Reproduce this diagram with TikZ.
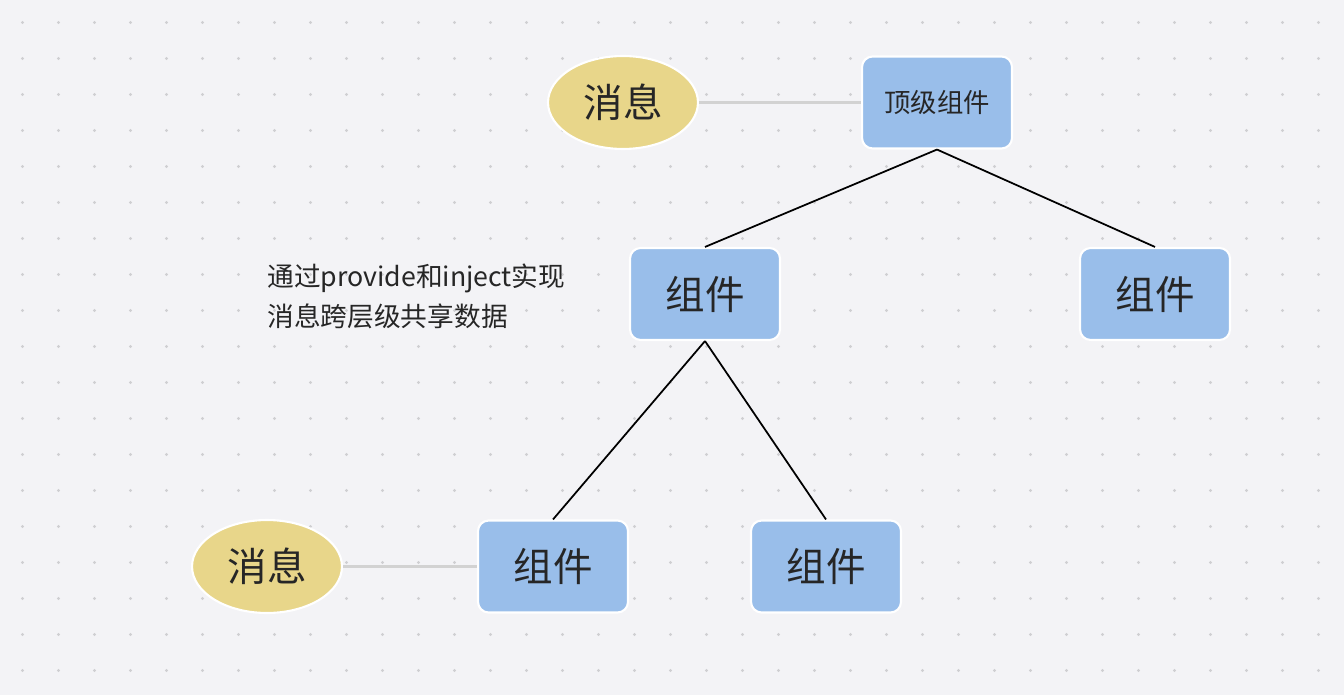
\documentclass[tikz,border=0pt]{standalone}
\usepackage{fontspec}
\newfontfamily\cjk{Noto Sans CJK SC}
\usepackage{tikz}
\usetikzlibrary{shapes.geometric}
\definecolor{bgpaper}{HTML}{F3F3F6}
\definecolor{griddot}{HTML}{CFCFD2}
\definecolor{compblue}{HTML}{99BEEA}
\definecolor{msgyellow}{HTML}{E8D68A}
\definecolor{textdark}{HTML}{262626}
\tikzset{
  comp/.style={draw=white, line width=1.2pt, fill=compblue, rounded corners=6pt,
               minimum width=3cm, minimum height=1.84cm, text=textdark,
               font=\cjk\fontsize{22.5pt}{26pt}\selectfont},
  topcomp/.style={comp, font=\cjk\fontsize{15pt}{18pt}\selectfont},
  msg/.style={ellipse, draw=white, line width=1.2pt, fill=msgyellow, inner sep=0pt,
              minimum width=3cm, minimum height=1.86cm, text=textdark,
              font=\cjk\fontsize{22.5pt}{26pt}\selectfont},
  tree/.style={line width=1pt, black},
  link/.style={line width=1.2pt, gray!35},
}

\begin{document}
\begin{tikzpicture}[x=0.02cm, y=-0.02cm]
  % paper with dot grid
  \fill[bgpaper] (0,0) rectangle (1344,695);
  \useasboundingbox (0,0) rectangle (1344,695);
  \foreach \i in {0,...,36}
    \foreach \j in {0,...,18}
      \fill[griddot] (22.5+36*\i,22.5+36*\j) circle[radius=1.6];

  % components
  \node[topcomp] (top) at (937,102.5) {顶级组件};
  \node[comp] (midL) at (705,294) {组件};
  \node[comp] (midR) at (1155,294) {组件};
  \node[comp] (botL) at (553,566.5) {组件};
  \node[comp] (botR) at (826,566.5) {组件};

  % messages
  \node[msg] (msgTop) at (623,102.5) {消息};
  \node[msg] (msgBot) at (267,566.5) {消息};

  % tree edges
  \draw[tree] (top.south) -- (midL.north);
  \draw[tree] (top.south) -- (midR.north);
  \draw[tree] (midL.south) -- (botL.north);
  \draw[tree] (midL.south) -- (botR.north);

  % message links
  \draw[link] (msgTop.east) -- (top.west);
  \draw[link] (msgBot.east) -- (botL.west);

  % note
  \node[anchor=west, align=left, inner sep=0pt, text=textdark,
        font=\cjk\fontsize{15.2pt}{22.7pt}\selectfont] (note) at (267,296)
    {通过provide和inject实现\\消息跨层级共享数据};
\end{tikzpicture}
\end{document}
